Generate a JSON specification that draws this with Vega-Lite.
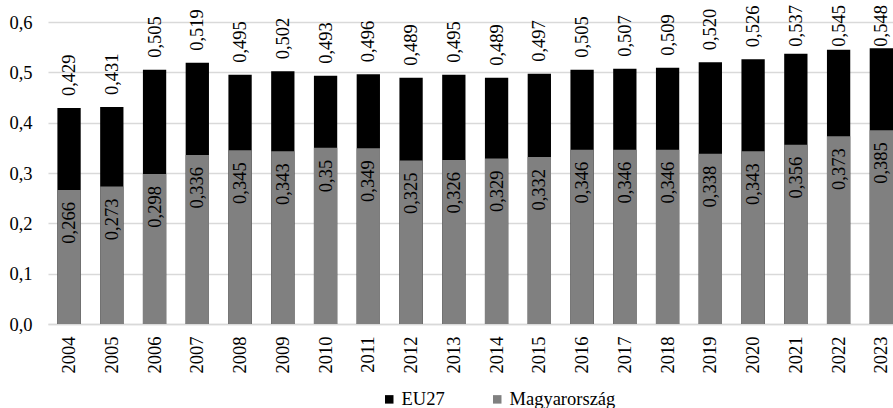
{
  "$schema": "https://vega.github.io/schema/vega-lite/v6.json",
  "width": 845,
  "height": 302,
  "autosize": {"type": "none"},
  "padding": {"left": 48, "top": 22, "right": 0, "bottom": 84},
  "background": "white",
  "config": {
    "locale": {"number": {"decimal": ",", "thousands": " ", "grouping": [3], "currency": ["", ""]}},
    "font": "'Liberation Serif', 'Times New Roman', Tinos, serif",
    "view": {"stroke": null},
    "text": {"font": "'Liberation Serif', 'Times New Roman', Tinos, serif"},
    "axis": {"labelFont": "'Liberation Serif', 'Times New Roman', Tinos, serif", "labelFontSize": 18.5, "labelColor": "#000000", "ticks": false, "title": null},
    "legend": {"labelFont": "'Liberation Serif', 'Times New Roman', Tinos, serif"}
  },
  "data": {
    "values": [
      {"year": "2004", "series": "EU27", "value": 0.429},
      {"year": "2005", "series": "EU27", "value": 0.431},
      {"year": "2006", "series": "EU27", "value": 0.505},
      {"year": "2007", "series": "EU27", "value": 0.519},
      {"year": "2008", "series": "EU27", "value": 0.495},
      {"year": "2009", "series": "EU27", "value": 0.502},
      {"year": "2010", "series": "EU27", "value": 0.493},
      {"year": "2011", "series": "EU27", "value": 0.496},
      {"year": "2012", "series": "EU27", "value": 0.489},
      {"year": "2013", "series": "EU27", "value": 0.495},
      {"year": "2014", "series": "EU27", "value": 0.489},
      {"year": "2015", "series": "EU27", "value": 0.497},
      {"year": "2016", "series": "EU27", "value": 0.505},
      {"year": "2017", "series": "EU27", "value": 0.507},
      {"year": "2018", "series": "EU27", "value": 0.509},
      {"year": "2019", "series": "EU27", "value": 0.520},
      {"year": "2020", "series": "EU27", "value": 0.526},
      {"year": "2021", "series": "EU27", "value": 0.537},
      {"year": "2022", "series": "EU27", "value": 0.545},
      {"year": "2023", "series": "EU27", "value": 0.548},
      {"year": "2004", "series": "Magyarország", "value": 0.266},
      {"year": "2005", "series": "Magyarország", "value": 0.273},
      {"year": "2006", "series": "Magyarország", "value": 0.298},
      {"year": "2007", "series": "Magyarország", "value": 0.336},
      {"year": "2008", "series": "Magyarország", "value": 0.345},
      {"year": "2009", "series": "Magyarország", "value": 0.343},
      {"year": "2010", "series": "Magyarország", "value": 0.35},
      {"year": "2011", "series": "Magyarország", "value": 0.349},
      {"year": "2012", "series": "Magyarország", "value": 0.325},
      {"year": "2013", "series": "Magyarország", "value": 0.326},
      {"year": "2014", "series": "Magyarország", "value": 0.329},
      {"year": "2015", "series": "Magyarország", "value": 0.332},
      {"year": "2016", "series": "Magyarország", "value": 0.346},
      {"year": "2017", "series": "Magyarország", "value": 0.346},
      {"year": "2018", "series": "Magyarország", "value": 0.346},
      {"year": "2019", "series": "Magyarország", "value": 0.338},
      {"year": "2020", "series": "Magyarország", "value": 0.343},
      {"year": "2021", "series": "Magyarország", "value": 0.356},
      {"year": "2022", "series": "Magyarország", "value": 0.373},
      {"year": "2023", "series": "Magyarország", "value": 0.385}
    ]
  },
  "encoding": {
    "x": {
      "field": "year", "type": "ordinal",
      "scale": {"paddingInner": 0.455, "paddingOuter": 0.11, "align": 1},
      "axis": {"labelAngle": -90, "labelAlign": "right", "labelBaseline": "middle", "labelPadding": 12, "domainColor": "#d9d9d9", "domainWidth": 1.5, "grid": false}
    },
    "y": {
      "field": "value", "type": "quantitative",
      "scale": {"domain": [0, 0.6], "nice": false},
      "axis": {"values": [0, 0.1, 0.2, 0.3, 0.4, 0.5, 0.6], "format": ".1f", "domain": false, "grid": true, "gridColor": "#d9d9d9", "gridWidth": 1.3, "labelPadding": 16}
    }
  },
  "layer": [
    {
      "mark": {"type": "bar"},
      "encoding": {
        "y": {"field": "value", "type": "quantitative", "stack": null},
        "color": {
          "field": "series", "type": "nominal",
          "scale": {"domain": ["EU27", "Magyarország"], "range": ["#000000", "#808080"]},
          "legend": {
            "title": null, "orient": "none", "direction": "horizontal",
            "legendX": 332, "legendY": 368,
            "symbolType": "square", "symbolSize": 72, "symbolStrokeWidth": 0,
            "labelFontSize": 18.5, "labelColor": "#000000",
            "labelOffset": 3, "columnPadding": 43
          }
        }
      }
    },
    {
      "transform": [
        {"filter": "datum.series === 'EU27'"},
        {"calculate": "min(datum.value, 0.527)", "as": "label_anchor"}
      ],
      "mark": {"type": "text", "angle": 270, "align": "left", "baseline": "middle", "dx": 12, "fontSize": 18.5, "color": "#000000"},
      "encoding": {
        "y": {"field": "label_anchor", "type": "quantitative"},
        "text": {"field": "value", "type": "quantitative", "format": ".3f"}
      }
    },
    {
      "transform": [{"filter": "datum.series === 'Magyarország'"}],
      "mark": {"type": "text", "angle": 270, "align": "right", "baseline": "middle", "dx": -12, "fontSize": 18.5, "color": "#000000"},
      "encoding": {"text": {"field": "value", "type": "quantitative", "format": "~g"}}
    }
  ]
}
